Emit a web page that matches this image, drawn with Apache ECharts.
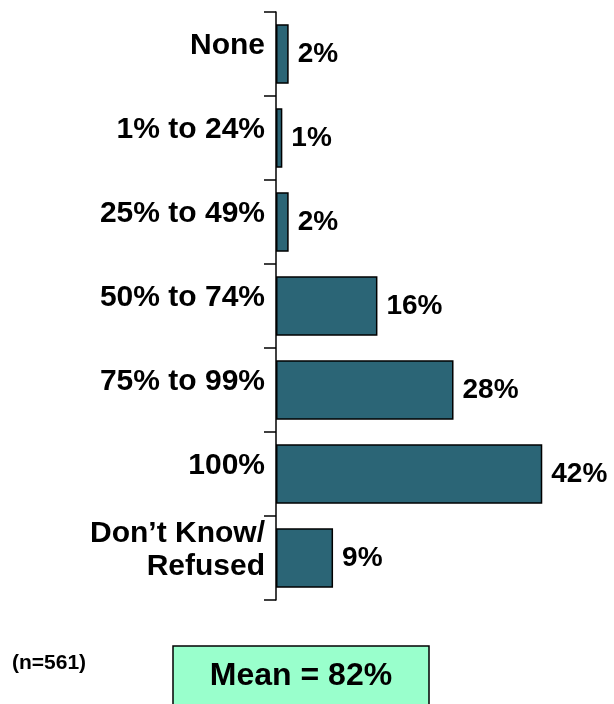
<!DOCTYPE html>
<html>
<head>
<meta charset="utf-8">
<script src="https://cdn.jsdelivr.net/npm/echarts@6/dist/echarts.min.js"></script>
<style>
html,body{margin:0;padding:0;background:#fff;}
#chart{width:614px;height:704px;}
</style>
</head>
<body>
<div id="chart"></div>
<script>
const categories = ['None', '1% to 24%', '25% to 49%', '50% to 74%', '75% to 99%', '100%', 'Don\u2019t Know/\nRefused'];
const values = [2, 1, 2, 16, 28, 42, 9];
const sampleLabel = '(n=561)';
const meanLabel = 'Mean = 82%';

const FONT = 'Liberation Sans, Arial, sans-serif';
const chart = echarts.init(document.getElementById('chart'), null, {renderer: 'canvas'});
chart.setOption({
  backgroundColor: '#ffffff',
  animation: false,
  grid: {left: 276, top: 12, width: 317, bottom: 104, containLabel: false},
  xAxis: {
    type: 'value', min: 0, max: 50, show: false
  },
  yAxis: {
    type: 'category',
    data: categories,
    inverse: true,
    axisLine: {show: true, lineStyle: {color: '#000', width: 1.5}},
    axisTick: {show: true, length: 12, lineStyle: {color: '#000', width: 1.5}},
    axisLabel: {
      margin: 11,
      formatter: v => v.split('\n').map(l => '{a|' + l + '}').join('\n') + '\n{s| }',
      rich: {
        a: {color: '#000', fontFamily: FONT, fontWeight: 'bold', fontSize: 30, lineHeight: 33, align: 'right'},
        s: {fontSize: 8, lineHeight: 16}
      }
    },
    splitLine: {show: false}
  },
  series: [{
    type: 'bar',
    data: values,
    barCategoryGap: '29%',
    itemStyle: {color: '#2B6576', borderColor: '#000', borderWidth: 1.5},
    label: {
      show: true, position: 'right', distance: 9,
      formatter: p => p.value + '%',
      color: '#000', fontFamily: FONT, fontWeight: 'bold', fontSize: 28
    }
  }],
  graphic: [
    {type: 'text', left: 12, top: 653,
     style: {text: sampleLabel, fill: '#000', font: 'bold 21px ' + FONT}},
    {type: 'rect', shape: {x: 173, y: 646, width: 256, height: 70},
     style: {fill: '#99FFCC', stroke: '#000', lineWidth: 1.5}},
    {type: 'text', x: 301, y: 676,
     style: {text: meanLabel, fill: '#000', font: 'bold 32px ' + FONT, align: 'center', verticalAlign: 'middle'}}
  ]
});
</script>
</body>
</html>
